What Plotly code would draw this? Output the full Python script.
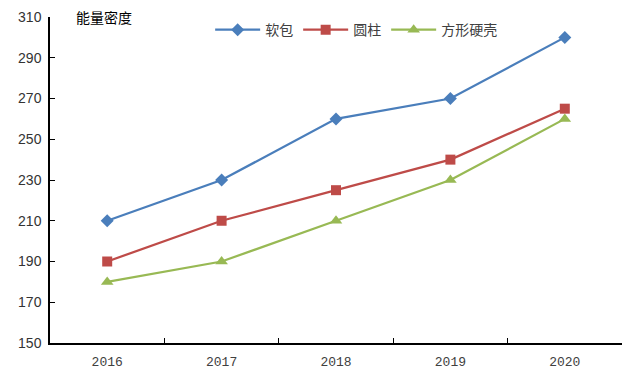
import plotly.graph_objects as go

years = ["2016", "2017", "2018", "2019", "2020"]
soft_pack = [210, 230, 260, 270, 300]
cylinder = [190, 210, 225, 240, 265]
prismatic = [180, 190, 210, 230, 260]
y_ticks = [150, 170, 190, 210, 230, 250, 270, 290, 310]

fig = go.Figure()
series = [
    ("软包", soft_pack, "#4A7EBB", "diamond", 10),
    ("圆柱", cylinder, "#BE4B48", "square", 10),
    ("方形硬壳", prismatic, "#98B954", "triangle-up", 11),
]
for name, vals, color, sym, size in series:
    fig.add_trace(go.Scatter(
        x=years, y=vals, name=name, mode="lines+markers",
        line=dict(color=color, width=2.25),
        marker=dict(symbol=sym, size=size, color=color),
    ))

fig.update_layout(
    width=640, height=379,
    margin=dict(l=50, r=18, t=17, b=36, autoexpand=False),
    plot_bgcolor="white", paper_bgcolor="white",
    font=dict(family="Noto Sans CJK SC, DejaVu Sans", size=13, color="#333333"),
    showlegend=True,
    legend=dict(orientation="h", x=0.28, y=0.96, xanchor="left", yanchor="middle",
                font=dict(size=14, color="#404040"), bgcolor="rgba(0,0,0,0)",
                tracegroupgap=0, itemwidth=45),
    annotations=[dict(text="能量密度", xref="paper", yref="paper", x=0.042, y=1.0,
                      xanchor="left", yanchor="middle", showarrow=False,
                      font=dict(size=14, color="#000000"))],
)
fig.update_xaxes(type="category", range=[-0.5, 4.5], showline=True, linecolor="black",
                 linewidth=1.5, ticks="inside", tickson="boundaries", ticklen=5,
                 tickcolor="black", showgrid=False, automargin=False,
                 ticklabelstandoff=6,
                 tickfont=dict(size=13, color="#404040",
                               family="Liberation Mono, DejaVu Sans Mono"))
fig.update_yaxes(range=[150, 310], tickvals=y_ticks, showline=True, linecolor="black",
                 linewidth=1.5, ticks="inside", ticklen=5, tickcolor="black",
                 showgrid=False, zeroline=False, automargin=False,
                 ticklabelstandoff=4,
                 tickfont=dict(size=14, color="#333333", family="Liberation Sans, Arial"))

fig.write_html("out.html", config={"displayModeBar": False},
               post_script="document.body.style.margin='0';document.body.style.padding='0';")
